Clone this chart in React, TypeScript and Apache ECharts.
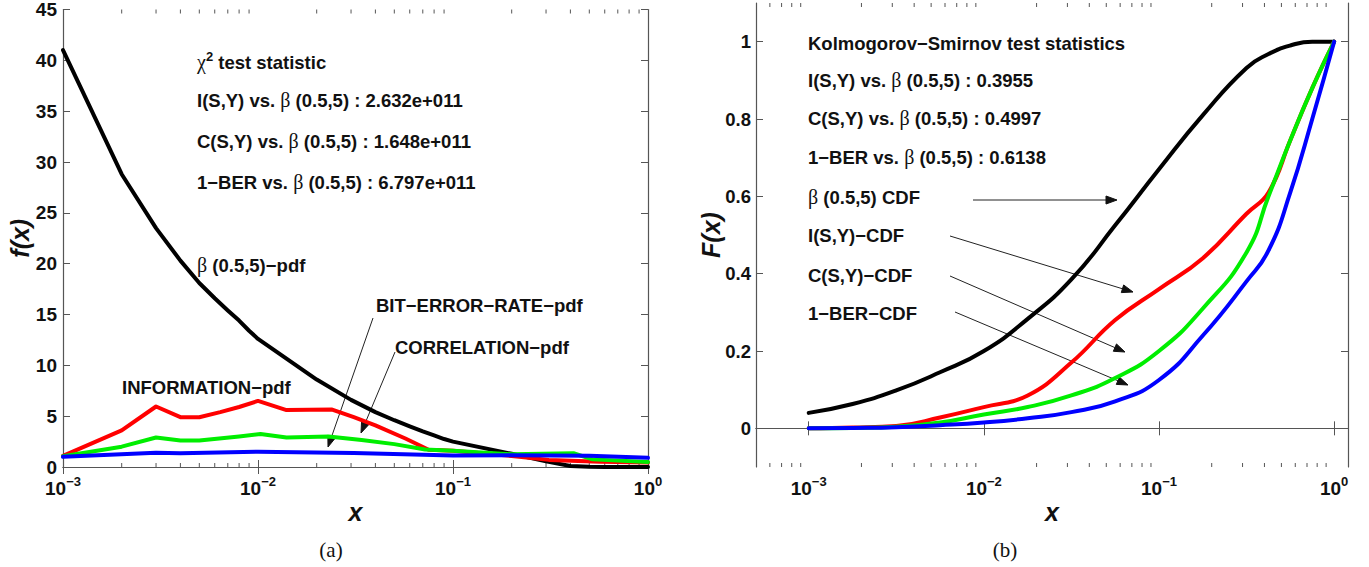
import React, { useEffect, useRef } from 'react';
import * as echarts from 'echarts';

// ---------- (a) probability density functions ----------
const betaPdfX = [0.001, 0.002, 0.003, 0.004, 0.005, 0.006, 0.007, 0.008, 0.009, 0.01, 0.02, 0.03, 0.04, 0.05, 0.06, 0.07, 0.08, 0.09, 0.1, 0.2, 0.3, 0.4, 0.5, 0.6, 0.7, 0.8, 0.9, 1];
const betaPdfY = [41, 28.8, 23.5, 20.3, 18.1, 16.6, 15.4, 14.4, 13.4, 12.6, 8.6, 6.6, 5.4, 4.6, 4.0, 3.5, 3.1, 2.75, 2.5, 1.3, 0.55, 0.1, 0.02, 0, 0, 0, 0, 0];

const infoPdfX = [0.001, 0.002, 0.003, 0.004, 0.005, 0.0064, 0.008, 0.01, 0.014, 0.024, 0.031, 0.04, 0.057, 0.075, 0.1, 0.2, 0.31, 0.57, 1];
const infoPdfY = [1.1, 3.6, 5.95, 4.9, 4.9, 5.4, 5.9, 6.5, 5.6, 5.65, 4.9, 4.1, 2.8, 1.7, 1.6, 1.08, 0.7, 0.52, 0.45];

const corrPdfX = [0.001, 0.002, 0.003, 0.004, 0.005, 0.008, 0.0103, 0.014, 0.023, 0.034, 0.05, 0.072, 0.1, 0.2, 0.415, 0.52, 1];
const corrPdfY = [1.05, 2.0, 2.9, 2.6, 2.6, 3.0, 3.25, 2.9, 3.0, 2.65, 2.25, 1.73, 1.6, 1.25, 1.35, 0.75, 0.5];

const berPdfX = [0.001, 0.003, 0.004, 0.01, 0.031, 0.1, 0.2, 0.5, 1];
const berPdfY = [1.0, 1.4, 1.35, 1.5, 1.38, 1.12, 1.15, 1.1, 0.9];

// ---------- (b) cumulative distribution functions ----------
const cdfX = [0.001, 0.00178, 0.00316, 0.00562, 0.01, 0.0178, 0.0316, 0.0562, 0.1, 0.178, 0.316, 0.422, 0.562, 0.75, 1];
const betaCdfY = [0.04, 0.063, 0.098, 0.145, 0.2, 0.283, 0.385, 0.525, 0.67, 0.81, 0.932, 0.968, 0.99, 1.0, 1.0];
const infoCdfY = [0, 0.002, 0.006, 0.028, 0.055, 0.085, 0.17, 0.28, 0.36, 0.44, 0.555, 0.61, 0.745, 0.88, 1];
const corrCdfY = [0, 0.001, 0.004, 0.015, 0.036, 0.055, 0.085, 0.13, 0.2, 0.31, 0.455, 0.6, 0.745, 0.88, 1];
const berCdfY = [0, 0.001, 0.003, 0.008, 0.015, 0.026, 0.042, 0.07, 0.125, 0.24, 0.38, 0.46, 0.61, 0.8, 1];

// ---------- ticks ----------
const leftMinorTicks = [0.002, 0.003, 0.004, 0.005, 0.006, 0.007, 0.008, 0.009, 0.02, 0.03, 0.04, 0.05, 0.06, 0.07, 0.08, 0.09, 0.2, 0.3, 0.4, 0.5, 0.6, 0.7, 0.8, 0.9];
const rightMinorTicks = [0.0006, 0.0007, 0.0008, 0.0009, ...leftMinorTicks];
const cdfYTicks = [0, 0.2, 0.4, 0.6, 0.8, 1];

const SANS = '"Liberation Sans", Arial, sans-serif';
const SERIF = '"Liberation Serif", "Times New Roman", serif';
const AXIS_COLOR = '#555';
const TXT = 18.5;

const RED = '#ff0000';
const GREEN = '#00ee00';
const BLUE = '#0000ff';
const BLACK = '#000000';

const richText = {
  t: { fontFamily: SANS, fontWeight: 'bold', fontSize: TXT, fill: '#111', color: '#111' },
  g: { fontFamily: SERIF, fontWeight: 'normal', fontSize: 20, fill: '#111', color: '#111' },
  sup: { fontFamily: SANS, fontWeight: 'bold', fontSize: 13, lineHeight: 13, padding: [0, 0, 12, 0], fill: '#111', color: '#111' },
};

function label(x: number, y: number, text: string) {
  return {
    type: 'text',
    x,
    y,
    style: {
      text,
      rich: richText,
      fill: '#111',
      align: 'left',
      verticalAlign: 'middle',
      fontFamily: SANS,
      fontWeight: 'bold',
      fontSize: TXT,
    },
  };
}

function arrow(x1: number, y1: number, x2: number, y2: number) {
  const dx = x2 - x1;
  const dy = y2 - y1;
  const len = Math.sqrt(dx * dx + dy * dy);
  const ux = dx / len;
  const uy = dy / len;
  const hl = 11;
  const hw = 4;
  const bx = x2 - ux * hl;
  const by = y2 - uy * hl;
  return [
    { type: 'line', shape: { x1, y1, x2: bx, y2: by }, style: { stroke: '#222', lineWidth: 1 } },
    {
      type: 'polygon',
      shape: { points: [[x2, y2], [bx - uy * hw, by + ux * hw], [bx + uy * hw, by - ux * hw]] },
      style: { fill: '#111', stroke: '#111', lineWidth: 1 },
    },
  ];
}

const pair = (xs: number[], ys: number[]) => xs.map((x, i) => [x, ys[i]]);

const logFormatter = (v: number) => {
  const e = Math.round(Math.log10(v));
  return `{b|10}{s|${e < 0 ? '\u2212' : ''}${Math.abs(e)}}`;
};

const logRich = {
  b: { fontFamily: SANS, fontWeight: 'bold', fontSize: 19, color: '#111', lineHeight: 26 },
  s: { fontFamily: SANS, fontWeight: 'bold', fontSize: 13, color: '#111', lineHeight: 13, padding: [0, 0, 14, 0] },
};

const nameStyle = { fontFamily: SANS, fontWeight: 'bold', fontStyle: 'italic', fontSize: 25, color: '#111' };

function minorTickSeries(values: number[], xi: number, yi: number, yv: number) {
  return {
    type: 'custom',
    xAxisIndex: xi,
    yAxisIndex: yi,
    silent: true,
    clip: false,
    data: values.map((v) => [v, yv]),
    renderItem: (params: any, api: any) => {
      const x = api.coord([api.value(0), yv])[0];
      const cs = params.coordSys;
      const b = cs.y + cs.height;
      return {
        type: 'group',
        children: [
          { type: 'line', shape: { x1: x, y1: b, x2: x, y2: b - 4 }, style: { stroke: AXIS_COLOR, lineWidth: 1 } },
          { type: 'line', shape: { x1: x, y1: cs.y, x2: x, y2: cs.y + 4 }, style: { stroke: AXIS_COLOR, lineWidth: 1 } },
        ],
      };
    },
  };
}

function lineSeries(name: string, xs: number[], ys: number[], color: string, xi: number, yi: number, smooth: number | boolean) {
  return {
    name,
    type: 'line',
    xAxisIndex: xi,
    yAxisIndex: yi,
    data: pair(xs, ys),
    showSymbol: false,
    symbol: 'none',
    smooth,
    clip: false,
    lineStyle: { color, width: 4, join: 'round', cap: 'round' },
    itemStyle: { color },
    z: 3,
  };
}

const axisLine = { show: true, lineStyle: { color: AXIS_COLOR, width: 1.2 } };
const tick = { inside: true, length: 7, lineStyle: { color: AXIS_COLOR } };

function buildOption() {
  return {
    animation: false,
    backgroundColor: '#ffffff',
    grid: [
      { left: 63, top: 7, width: 585, height: 460 },
      { left: 756, top: 3, width: 592, height: 464 },
    ],
    xAxis: [
      {
        gridIndex: 0, type: 'log', logBase: 10, min: 0.001, max: 1, position: 'bottom',
        axisLine, axisTick: tick,
        axisLabel: { formatter: logFormatter, rich: logRich, margin: 8 },
        splitLine: { show: false },
        name: 'x', nameLocation: 'middle', nameGap: 32, nameMoveOverlap: false, nameTextStyle: nameStyle,
      },
      {
        gridIndex: 0, type: 'log', logBase: 10, min: 0.001, max: 1, position: 'top',
        axisLine, axisTick: tick, axisLabel: { show: false }, splitLine: { show: false },
      },
      {
        gridIndex: 1, type: 'log', logBase: 10, min: 0.0005, max: 1.2, position: 'bottom',
        axisLine, axisTick: tick,
        axisLabel: { formatter: logFormatter, rich: logRich, margin: 8, showMinLabel: false, showMaxLabel: false },
        splitLine: { show: false },
        name: 'x', nameLocation: 'middle', nameGap: 32, nameMoveOverlap: false, nameTextStyle: nameStyle,
      },
      {
        gridIndex: 1, type: 'log', logBase: 10, min: 0.0005, max: 1.2, position: 'top',
        axisLine, axisTick: tick, axisLabel: { show: false }, splitLine: { show: false },
      },
    ],
    yAxis: [
      {
        gridIndex: 0, type: 'value', min: 0, max: 45, interval: 5, position: 'left',
        axisLine, axisTick: tick,
        axisLabel: { fontFamily: SANS, fontWeight: 'bold', fontSize: 19, color: '#111', margin: 6 },
        splitLine: { show: false },
        name: 'f(x)', nameLocation: 'middle', nameGap: 31, nameMoveOverlap: false, nameTextStyle: nameStyle,
      },
      {
        gridIndex: 0, type: 'value', min: 0, max: 45, interval: 5, position: 'right',
        axisLine, axisTick: tick, axisLabel: { show: false }, splitLine: { show: false },
      },
      {
        gridIndex: 1, type: 'value', min: -0.1, max: 1.1, position: 'left',
        axisLine,
        axisTick: { ...tick, customValues: cdfYTicks },
        axisLabel: { fontFamily: SANS, fontWeight: 'bold', fontSize: 18.5, color: '#111', margin: 5, customValues: cdfYTicks },
        splitLine: { show: false },
        name: 'F(x)', nameLocation: 'middle', nameGap: 33, nameMoveOverlap: false, nameTextStyle: nameStyle,
      },
      {
        gridIndex: 1, type: 'value', min: -0.1, max: 1.1, position: 'right',
        axisLine,
        axisTick: { ...tick, customValues: cdfYTicks },
        axisLabel: { show: false }, splitLine: { show: false },
      },
    ],
    series: [
      minorTickSeries(leftMinorTicks, 0, 0, 10),
      minorTickSeries(rightMinorTicks, 2, 2, 0.5),
      lineSeries('β (0.5,5)-pdf', betaPdfX, betaPdfY, BLACK, 0, 0, false),
      lineSeries('INFORMATION-pdf', infoPdfX, infoPdfY, RED, 0, 0, false),
      lineSeries('CORRELATION-pdf', corrPdfX, corrPdfY, GREEN, 0, 0, false),
      lineSeries('BIT-ERROR-RATE-pdf', berPdfX, berPdfY, BLUE, 0, 0, false),
      lineSeries('β (0.5,5) CDF', cdfX, betaCdfY, BLACK, 2, 2, 0.5),
      lineSeries('I(S,Y)-CDF', cdfX, infoCdfY, RED, 2, 2, 0.45),
      lineSeries('C(S,Y)-CDF', cdfX, corrCdfY, GREEN, 2, 2, 0.5),
      lineSeries('1-BER-CDF', cdfX, berCdfY, BLUE, 2, 2, 0.5),
    ],
    graphic: [
      // (a) annotations
      label(197, 62, '{g|\u03c7}{sup|2}{t| test statistic}'),
      label(197, 100, '{t|I(S,Y) vs. }{g|\u03b2}{t| (0.5,5) : 2.632e+011}'),
      label(197, 141, '{t|C(S,Y) vs. }{g|\u03b2}{t| (0.5,5) : 1.648e+011}'),
      label(197, 182, '{t|1\u2212BER vs. }{g|\u03b2}{t| (0.5,5) : 6.797e+011}'),
      label(197, 265, '{g|\u03b2}{t| (0.5,5)\u2212pdf}'),
      label(122, 387, '{t|INFORMATION\u2212pdf}'),
      label(376, 305, '{t|BIT\u2212ERROR\u2212RATE\u2212pdf}'),
      label(395, 347, '{t|CORRELATION\u2212pdf}'),
      ...arrow(373, 318, 328, 447),
      ...arrow(395, 352, 361, 433),
      // (b) annotations
      label(808, 43, '{t|Kolmogorov\u2212Smirnov test statistics}'),
      label(808, 80, '{t|I(S,Y) vs. }{g|\u03b2}{t| (0.5,5) : 0.3955}'),
      label(808, 118, '{t|C(S,Y) vs. }{g|\u03b2}{t| (0.5,5) : 0.4997}'),
      label(808, 157, '{t|1\u2212BER vs. }{g|\u03b2}{t| (0.5,5) : 0.6138}'),
      label(808, 197, '{g|\u03b2}{t| (0.5,5) CDF}'),
      label(808, 235, '{t|I(S,Y)\u2212CDF}'),
      label(808, 275, '{t|C(S,Y)\u2212CDF}'),
      label(808, 313, '{t|1\u2212BER\u2212CDF}'),
      ...arrow(973, 200, 1117, 200),
      ...arrow(950, 236, 1133, 292),
      ...arrow(950, 276, 1125, 352),
      ...arrow(955, 312, 1128, 385),
      // captions
      {
        type: 'text', x: 331, y: 550,
        style: { text: '(a)', fontFamily: SERIF, fontSize: 21, fill: '#111', align: 'center', verticalAlign: 'middle' },
      },
      {
        type: 'text', x: 1005, y: 550,
        style: { text: '(b)', fontFamily: SERIF, fontSize: 21, fill: '#111', align: 'center', verticalAlign: 'middle' },
      },
    ],
  };
}

export default function App() {
  const ref = useRef<HTMLDivElement>(null);
  useEffect(() => {
    if (!ref.current) return;
    const chart = echarts.init(ref.current, null, { renderer: 'svg' });
    chart.setOption(buildOption() as any);
    return () => chart.dispose();
  }, []);
  return (
    <div
      ref={ref}
      style={{ position: 'absolute', left: 0, top: 0, width: 1369, height: 567, background: '#ffffff' }}
    />
  );
}
